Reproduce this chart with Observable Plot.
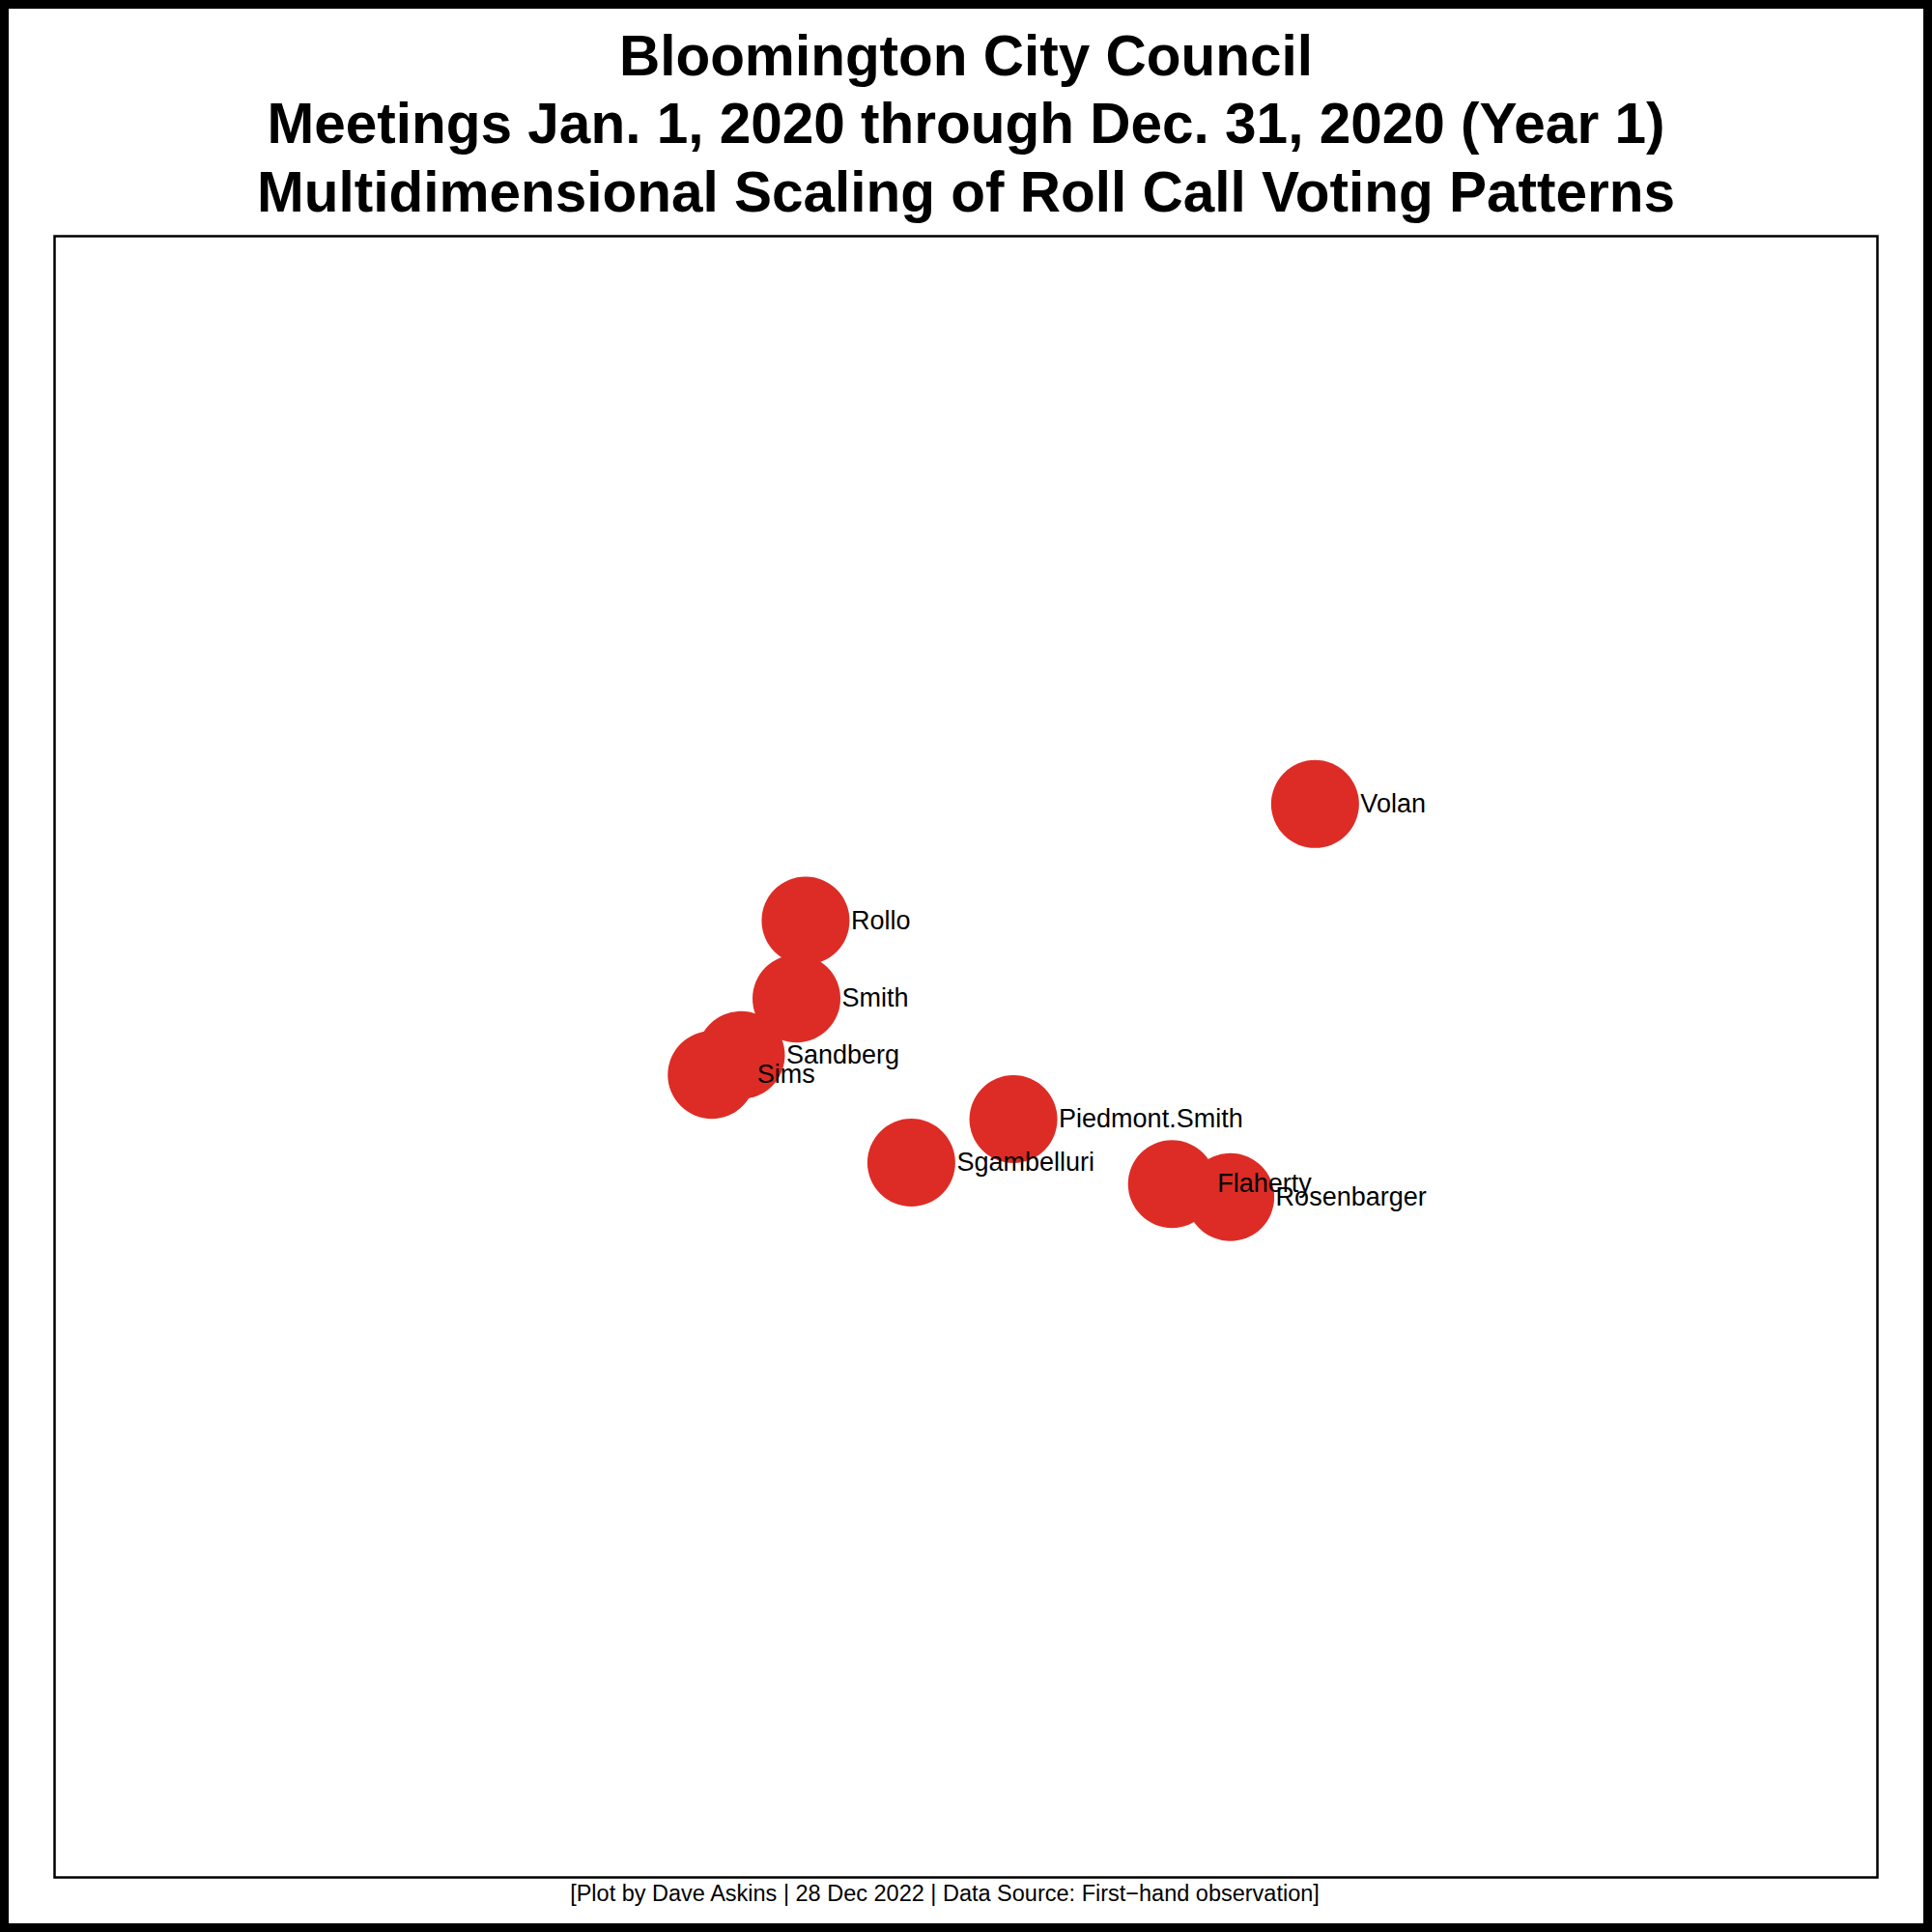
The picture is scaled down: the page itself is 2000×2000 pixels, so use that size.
<!DOCTYPE html>
<html>
<head>
<meta charset="utf-8">
<script src="https://cdn.jsdelivr.net/npm/d3@7"></script>
<script src="https://cdn.jsdelivr.net/npm/@observablehq/plot@0.6"></script>
<style>
  html, body { margin: 0; padding: 0; background: #fff; }
  #wrap {
    width: 2000px; height: 2000px; box-sizing: border-box;
    border: 9px solid #000; background: #fff; overflow: hidden;
    font-family: "Liberation Sans", Helvetica, Arial, sans-serif; color: #000;
  }
  #title {
    padding-top: 13.5px; text-align: center; font-weight: bold;
    font-size: 58.5px; line-height: 70.5px; height: 225px; box-sizing: border-box;
  }
  #title div { white-space: nowrap; }
  #chart svg { display: block; }
  #caption {
    margin-top: -1px; text-align: center; font-size: 23.5px; line-height: 28px;
    position: relative; left: -22px; white-space: nowrap;
  }
</style>
</head>
<body>
<div id="wrap">
  <div id="title"></div>
  <div id="chart"></div>
  <div id="caption"></div>
</div>
<script>
// Title and caption text
const titleLines = [
  "Bloomington City Council",
  "Meetings Jan. 1, 2020 through Dec. 31, 2020 (Year 1)",
  "Multidimensional Scaling of Roll Call Voting Patterns"
];
const captionText = "[Plot by Dave Askins | 28 Dec 2022 | Data Source: First\u2212hand observation]";

// Council members and their MDS coordinates
const members = ["Volan", "Rollo", "Smith", "Sandberg", "Sims", "Piedmont.Smith", "Sgambelluri", "Flaherty", "Rosenbarger"];
const dim1 = [0.383, -0.176, -0.186, -0.247, -0.279, 0.052, -0.060, 0.226, 0.290];
const dim2 = [0.308, 0.166, 0.071, 0.002, -0.022, -0.076, -0.129, -0.155, -0.171];

const data = members.map((name, i) => ({name, x: dim1[i], y: dim2[i]}));

const titleEl = document.getElementById("title");
titleLines.forEach(t => {
  const d = document.createElement("div");
  d.textContent = t;
  titleEl.appendChild(d);
});
document.getElementById("caption").textContent = captionText;

const chart = Plot.plot({
  width: 1982,
  height: 1713,
  marginLeft: 47,
  marginRight: 48,
  marginTop: 10,
  marginBottom: 4,
  x: {domain: [-1, 1], axis: null},
  y: {domain: [-1, 1], axis: null},
  style: {fontFamily: "'Liberation Sans', Helvetica, Arial, sans-serif", background: "#fff", color: "#000"},
  marks: [
    Plot.frame({stroke: "#000", strokeWidth: 2.5}),
    Plot.dot(data, {x: "x", y: "y", r: 45.5, fill: "#dd2c26", fillOpacity: 1}),
    Plot.text(data, {x: "x", y: "y", text: "name", textAnchor: "start", dx: 47, fontSize: 27, fill: "#000"})
  ]
});
document.getElementById("chart").appendChild(chart);
</script>
</body>
</html>
